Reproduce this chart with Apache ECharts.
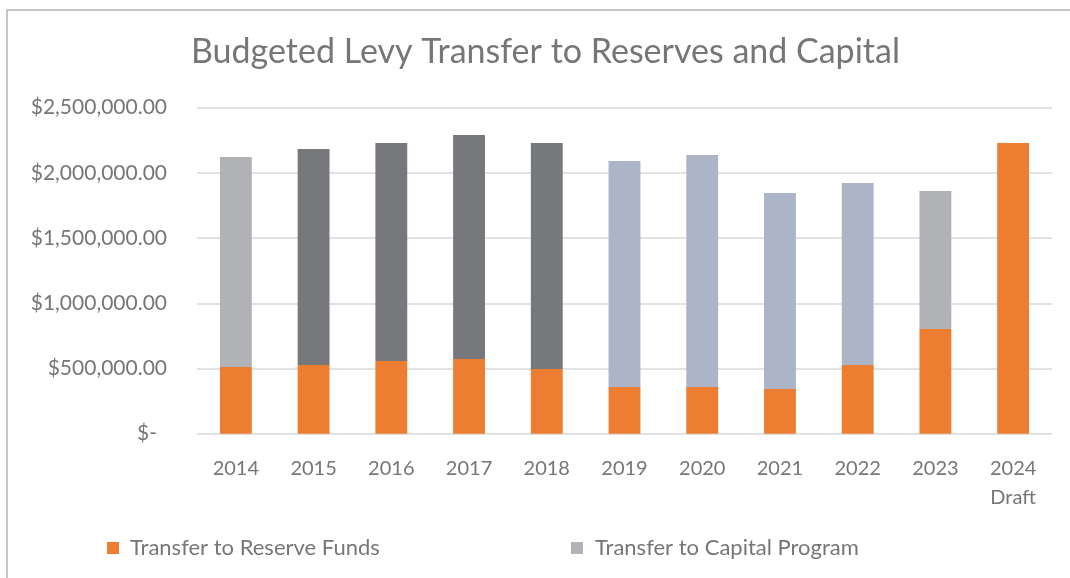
<!DOCTYPE html>
<html>
<head>
<meta charset="utf-8">
<script src="https://cdn.jsdelivr.net/npm/echarts@6/dist/echarts.min.js"></script>
<style>
html,body{margin:0;padding:0;background:#fff;}
#chart{width:1070px;height:578px;}
</style>
</head>
<body>
<div id="chart"></div>
<script>
const categories = ['2014','2015','2016','2017','2018','2019','2020','2021','2022','2023','2024\nDraft'];
const reserveFunds = [511000, 527000, 557000, 573000, 496000, 358000, 358000, 343000, 527000, 803000, 2229000];
const capitalProgram = [1611000, 1657000, 1672000, 1717000, 1733000, 1733000, 1779000, 1503000, 1396000, 1058000, 0];
const yTicks = [0, 500000, 1000000, 1500000, 2000000, 2500000];
const seriesNames = ['Transfer to Reserve Funds', 'Transfer to Capital Program'];

// styles (kept apart from data)
const ORANGE = '#ED7D31';
const LIGHT_GRAY = '#B1B2B6';
const DARK_GRAY = '#77787C';
const BLUE_GRAY = '#ABB5C7';
const capitalColors = [LIGHT_GRAY, DARK_GRAY, DARK_GRAY, DARK_GRAY, DARK_GRAY, BLUE_GRAY, BLUE_GRAY, BLUE_GRAY, BLUE_GRAY, LIGHT_GRAY, LIGHT_GRAY];
const TEXT = '#767676';
const FONT = 'Lato';

function money(v){
  if (v === 0) return '{z|$-}';
  return '$' + v.toLocaleString('en-US', {minimumFractionDigits: 2, maximumFractionDigits: 2});
}

const chart = echarts.init(document.getElementById('chart'), null, {renderer: 'canvas'});
chart.setOption({
  animation: false,
  backgroundColor: '#fff',
  textStyle: {fontFamily: FONT},
  graphic: [{
    type: 'rect',
    shape: {x: 7, y: 10, width: 1100, height: 600},
    style: {fill: 'none', stroke: '#B4B4B4', lineWidth: 1.5},
    silent: true
  }],
  title: {
    text: 'Budgeted Levy Transfer to Reserves and Capital',
    left: 186,
    top: 30,
    textStyle: {fontFamily: FONT, fontSize: 34, fontWeight: 'normal', color: TEXT}
  },
  legend: [{
    data: [seriesNames[0]],
    left: 102, top: 532,
    icon: 'rect', itemWidth: 12, itemHeight: 12, itemGap: 10,
    textStyle: {fontFamily: FONT, fontSize: 22, color: TEXT, padding: [0, 0, 0, 6]}
  },{
    data: [seriesNames[1]],
    left: 566, top: 532,
    icon: 'rect', itemWidth: 12, itemHeight: 12, itemGap: 10,
    textStyle: {fontFamily: FONT, fontSize: 22, color: TEXT, padding: [0, 0, 0, 7]}
  }],
  grid: {left: 197, right: 18, top: 107.7, bottom: 144.3, containLabel: false},
  xAxis: {
    type: 'category',
    data: categories,
    axisLine: {show: false},
    axisTick: {show: false},
    axisLabel: {fontFamily: FONT, fontSize: 20, color: TEXT, margin: 20, lineHeight: 29}
  },
  yAxis: {
    type: 'value',
    min: yTicks[0],
    max: yTicks[yTicks.length - 1],
    interval: yTicks[1] - yTicks[0],
    axisLine: {show: false},
    axisTick: {show: false},
    splitLine: {lineStyle: {color: '#D9D9D9', width: 1.5}},
    axisLabel: {
      fontFamily: FONT, fontSize: 21, color: TEXT, margin: 30,
      formatter: money,
      rich: {z: {fontFamily: FONT, fontSize: 21, color: TEXT, padding: [0, 10, 0, 0]}}
    }
  },
  series: [{
    name: seriesNames[0],
    type: 'bar',
    stack: 'total',
    barWidth: '41%',
    itemStyle: {color: ORANGE},
    data: reserveFunds
  },{
    name: seriesNames[1],
    type: 'bar',
    stack: 'total',
    barWidth: '41%',
    itemStyle: {color: LIGHT_GRAY},
    data: capitalProgram.map((v, i) => ({value: v, itemStyle: {color: capitalColors[i]}}))
  }]
});
</script>
</body>
</html>
